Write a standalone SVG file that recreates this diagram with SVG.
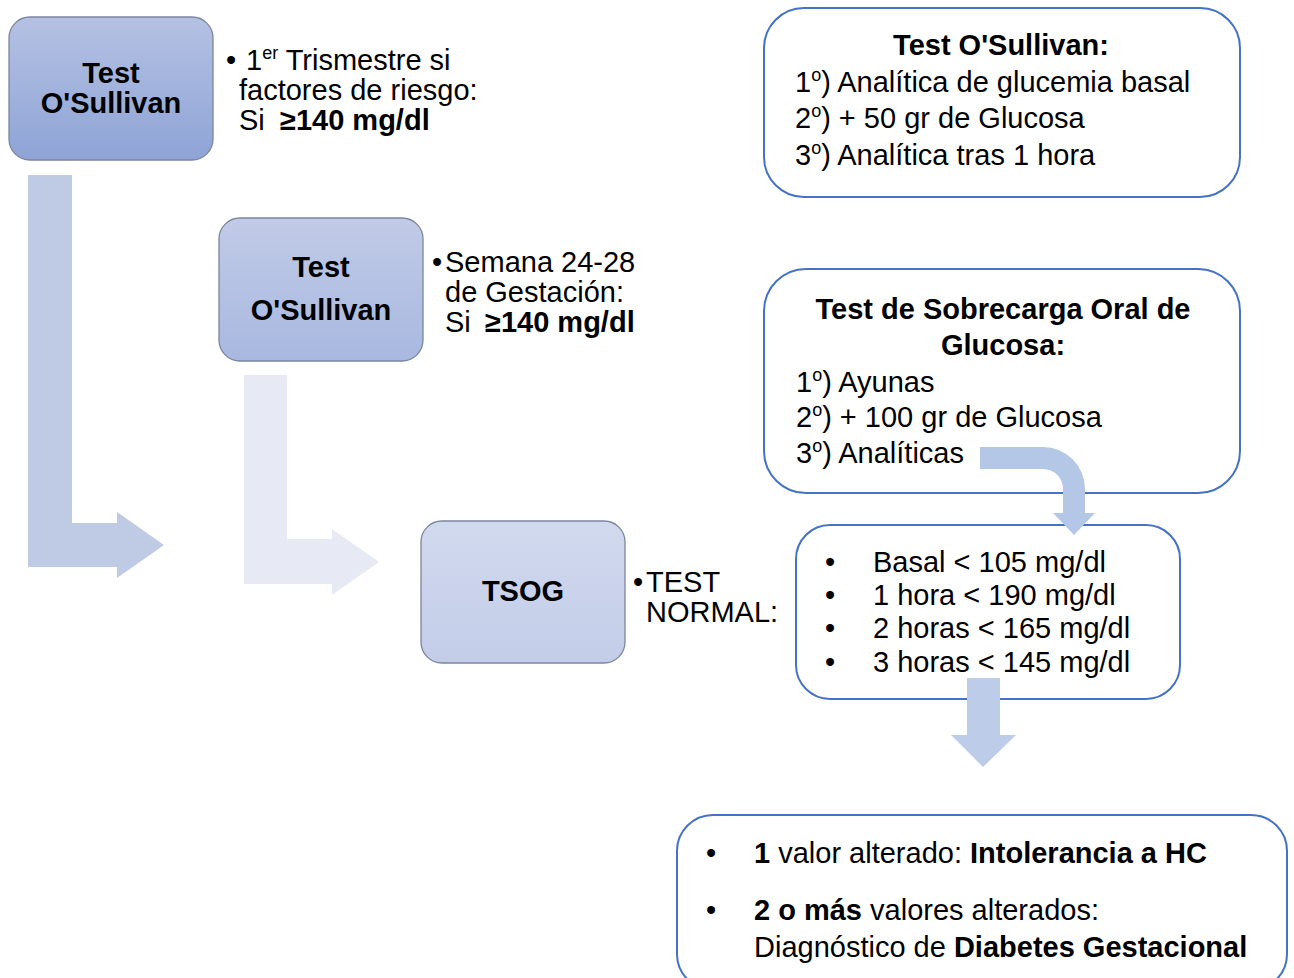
<svg xmlns="http://www.w3.org/2000/svg" width="1294" height="978" viewBox="0 0 1294 978">
<style>
text{font-family:"Liberation Sans",Arial,sans-serif;font-size:29px;fill:#000}
.b{font-weight:bold}
.c{text-anchor:middle}
.sup{font-size:18px}
.node{stroke:#7a859e;stroke-width:1.3}
.box{fill:#fff;stroke:#4472c4;stroke-width:2}
</style>
<defs>
<linearGradient id="g1" x1="0" y1="0" x2="0" y2="1"><stop offset="0" stop-color="#b5c1e3"/><stop offset="1" stop-color="#8ea4d6"/></linearGradient>
<linearGradient id="g2" x1="0" y1="0" x2="0" y2="1"><stop offset="0" stop-color="#c1cbe7"/><stop offset="1" stop-color="#a8b8e0"/></linearGradient>
<linearGradient id="g3" x1="0" y1="0" x2="0" y2="1"><stop offset="0" stop-color="#d1d9ee"/><stop offset="1" stop-color="#c3cde8"/></linearGradient>
</defs>
<rect width="1294" height="978" fill="#fff"/>

<g id="node-osullivan1">
<rect class="node" x="9" y="17" width="204" height="143" rx="21" fill="url(#g1)"/>
<text class="b c" x="111" y="83">Test</text>
<text class="b c" x="111" y="113">O'Sullivan</text>
</g>
<g id="note-osullivan1">
<text x="226" y="70">•</text>
<text x="246" y="70">1<tspan class="sup" dy="-11">er</tspan><tspan dy="11"> Trismestre si</tspan></text>
<text x="239" y="100">factores de riesgo:</text>
<text x="239" y="130">Si<tspan class="b" x="280">≥140 mg/dl</tspan></text>
</g>

<g id="node-osullivan2">
<rect class="node" x="219" y="218" width="204" height="143" rx="21" fill="url(#g2)"/>
<text class="b c" x="321" y="277">Test</text>
<text class="b c" x="321" y="320">O'Sullivan</text>
</g>
<g id="note-osullivan2">
<text x="432" y="272">•</text>
<text x="445" y="272">Semana 24-28</text>
<text x="445" y="302">de Gestación:</text>
<text x="445" y="332">Si<tspan class="b" x="485">≥140 mg/dl</tspan></text>
</g>

<g id="node-tsog">
<rect class="node" x="421" y="521" width="204" height="142" rx="21" fill="url(#g3)"/>
<text class="b c" x="523" y="601">TSOG</text>
</g>
<g id="note-tsog">
<text x="633" y="592">•</text>
<text x="646" y="592">TEST</text>
<text x="646" y="622">NORMAL:</text>
</g>

<g id="box-osullivan">
<rect class="box" x="764" y="8" width="476" height="189" rx="40"/>
<text class="b c" x="1001" y="55">Test O'Sullivan:</text>
<text x="795" y="92">1<tspan class="sup" dy="-11">o</tspan><tspan dy="11">) Analítica de glucemia basal</tspan></text>
<text x="795" y="128">2<tspan class="sup" dy="-11">o</tspan><tspan dy="11">) + 50 gr de Glucosa</tspan></text>
<text x="795" y="165">3<tspan class="sup" dy="-11">o</tspan><tspan dy="11">) Analítica tras 1 hora</tspan></text>
</g>

<g id="box-tsog">
<rect class="box" x="764" y="269" width="476" height="224" rx="42"/>
<text class="b c" x="1003" y="319">Test de Sobrecarga Oral de</text>
<text class="b c" x="1003" y="355">Glucosa:</text>
<text x="796" y="392">1<tspan class="sup" dy="-11">o</tspan><tspan dy="11">) Ayunas</tspan></text>
<text x="796" y="427">2<tspan class="sup" dy="-11">o</tspan><tspan dy="11">) + 100 gr de Glucosa</tspan></text>
<text x="796" y="463">3<tspan class="sup" dy="-11">o</tspan><tspan dy="11">) Analíticas</tspan></text>
</g>

<g id="box-values">
<rect class="box" x="796" y="525" width="384" height="174" rx="34"/>
<text x="825" y="572">•</text><text x="873" y="572">Basal &lt; 105 mg/dl</text>
<text x="825" y="605">•</text><text x="873" y="605">1 hora &lt; 190 mg/dl</text>
<text x="825" y="638">•</text><text x="873" y="638">2 horas &lt; 165 mg/dl</text>
<text x="825" y="672">•</text><text x="873" y="672">3 horas &lt; 145 mg/dl</text>
</g>

<g id="box-result">
<rect class="box" x="677" y="815" width="610" height="175" rx="36"/>
<text x="706" y="863">•</text>
<text x="754" y="863"><tspan class="b">1</tspan> valor alterado: <tspan class="b">Intolerancia a HC</tspan></text>
<text x="706" y="920">•</text>
<text x="754" y="920"><tspan class="b">2 o más</tspan> valores alterados:</text>
<text x="754" y="957">Diagnóstico de <tspan class="b">Diabetes Gestacional</tspan></text>
</g>

<g id="connectors">
<polygon fill="#bfcae5" points="28,175 72,175 72,523 117,523 117,512 164,545 117,578 117,567 28,567"/>
<polygon fill="#e7eaf5" points="244,375 287,375 287,539 332,539 332,529 379,562 332,595 332,584 244,584"/>
<path fill="#b4c7e7" d="M980,447 H1043 A42,42 0 0 1 1085,489 V513 H1095 L1074,535 L1053,513 H1063 V489 A20,20 0 0 0 1043,469 H980 Z"/>
<polygon fill="#bccce9" points="967,678 1000,678 1000,735 1016,735 983,767 951,735 967,735"/>
</g>
</svg>
